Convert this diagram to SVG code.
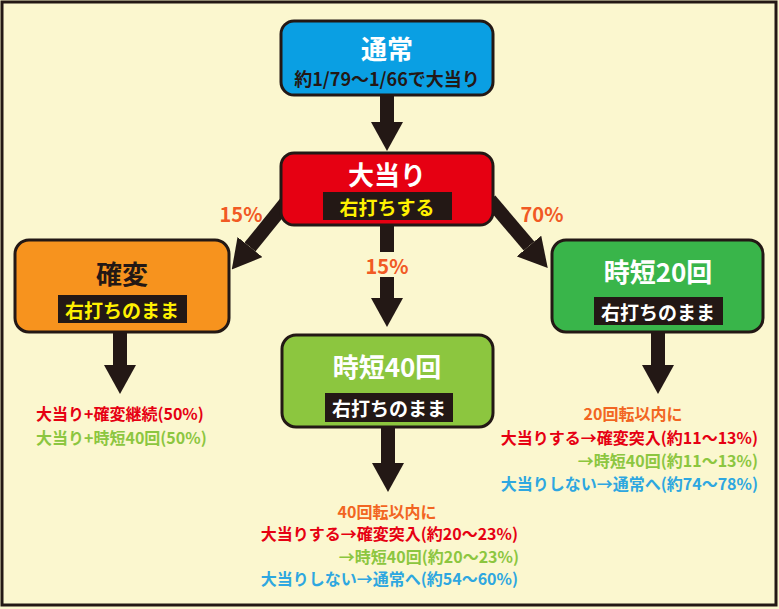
<svg xmlns="http://www.w3.org/2000/svg" width="779" height="609" viewBox="0 0 779 609">
<style>
text{font-family:"Noto Sans CJK JP","Noto Sans",sans-serif;font-weight:700;dominant-baseline:central}
.box{stroke:#231815;stroke-width:3}
.title{font-size:26px;text-anchor:middle}
.lbl{fill:#231815}
.lt{font-size:19px;text-anchor:middle}
.shaft{fill:none;stroke:#231815;stroke-width:14;marker-end:url(#head)}
.pct{font-size:20px;fill:#F15A24;text-anchor:middle}
.res{font-size:16px}
.or{fill:#F26522}.rd{fill:#E60012}.gr{fill:#8CC63F}.bl{fill:#2EA7E0}
</style>
<defs>
<marker id="head" markerUnits="userSpaceOnUse" viewBox="0 0 29 32" refX="0" refY="16" markerWidth="29" markerHeight="32" orient="auto">
<path d="M0,0 L29,16 L0,32 Z" fill="#231815"/>
</marker>
</defs>
<rect x="0" y="0" width="779" height="609" fill="#FBF7CF"/>
<rect x="2" y="2" width="774" height="603" fill="none" stroke="#231815" stroke-width="3"/>
<g id="connectors">
<path class="shaft" d="M387,95 V122"/>
<path class="shaft" d="M387,225 V252 M387,277 V298"/>
<path class="shaft" d="M288,200 L250,247"/>
<path class="shaft" d="M490,200 L529,246"/>
<path class="shaft" d="M120,332 V365"/>
<path class="shaft" d="M658,332 V365"/>
<path class="shaft" d="M388,427 V463"/>
<text class="pct" x="241" y="213">15%</text>
<text class="pct" x="387" y="265">15%</text>
<text class="pct" x="542" y="213">70%</text>
</g>
<g id="node-tsujo">
<rect class="box" x="281" y="21" width="212" height="74" rx="13" fill="#0A9FE3"/>
<text class="title" x="387" y="47" fill="#FFFFFF">通常</text>
<text x="387" y="78" font-size="18" text-anchor="middle" fill="#231815">約1/79〜1/66で大当り</text>
</g>
<g id="node-oatari">
<rect class="box" x="281" y="153" width="212" height="72" rx="13" fill="#E60012"/>
<text class="title" x="387" y="173" fill="#FFFFFF">大当り</text>
<rect class="lbl" x="323" y="192" width="129" height="28"/>
<text class="lt" x="387" y="206" fill="#FFF100">右打ちする</text>
</g>
<g id="node-kakuhen">
<rect class="box" x="15" y="240" width="214" height="92" rx="14" fill="#F7931E"/>
<text class="title" x="122" y="272" fill="#231815">確変</text>
<rect class="lbl" x="58" y="295" width="129" height="28"/>
<text class="lt" x="122" y="309" fill="#FFF100">右打ちのまま</text>
</g>
<g id="node-jitan40">
<rect class="box" x="282" y="335" width="211" height="92" rx="14" fill="#8CC63F"/>
<text class="title" x="387" y="365" fill="#FFFFFF">時短40回</text>
<rect class="lbl" x="325" y="393" width="128" height="29"/>
<text class="lt" x="389" y="407" fill="#FFFFFF">右打ちのまま</text>
</g>
<g id="node-jitan20">
<rect class="box" x="552" y="240" width="211" height="92" rx="14" fill="#39B54A"/>
<text class="title" x="658" y="270" fill="#FFFFFF">時短20回</text>
<rect class="lbl" x="594" y="297" width="129" height="28"/>
<text class="lt" x="658" y="311" fill="#FFFFFF">右打ちのまま</text>
</g>
<g id="result-kakuhen">
<text class="res rd" x="36" y="413">大当り+確変継続(50%)</text>
<text class="res gr" x="36" y="437">大当り+時短40回(50%)</text>
</g>
<g id="result-jitan20">
<text class="res or" x="633" y="413" text-anchor="middle">20回転以内に</text>
<text class="res rd" x="758" y="437" text-anchor="end">大当りする→確変突入(約11〜13%)</text>
<text class="res gr" x="758" y="460" text-anchor="end">→時短40回(約11〜13%)</text>
<text class="res bl" x="758" y="483" text-anchor="end">大当りしない→通常へ(約74〜78%)</text>
</g>
<g id="result-jitan40">
<text class="res or" x="387" y="511" text-anchor="middle">40回転以内に</text>
<text class="res rd" x="518" y="533" text-anchor="end">大当りする→確変突入(約20〜23%)</text>
<text class="res gr" x="519" y="556" text-anchor="end">→時短40回(約20〜23%)</text>
<text class="res bl" x="518" y="578" text-anchor="end">大当りしない→通常へ(約54〜60%)</text>
</g>
</svg>
